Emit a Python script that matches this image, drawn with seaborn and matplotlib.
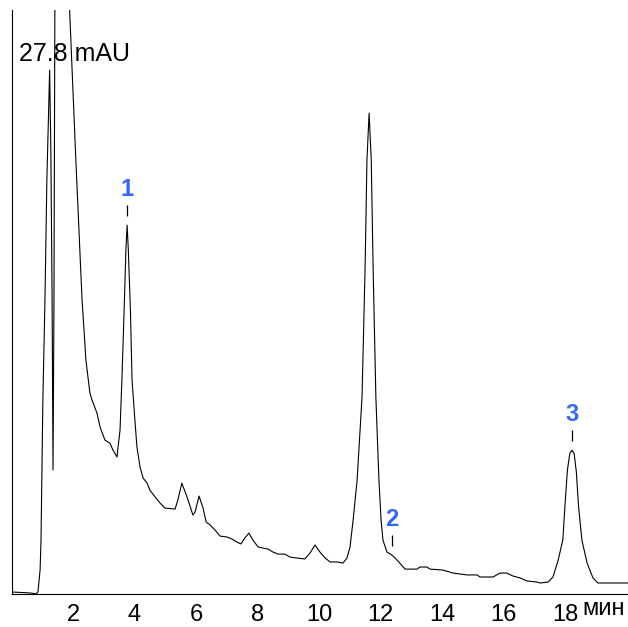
import numpy as np
import pandas as pd
import matplotlib
matplotlib.use("Agg")
import matplotlib.pyplot as plt
import matplotlib.transforms as mtransforms
import seaborn as sns

# Trace: time (min) and absorbance (mAU)
time_min = [0.02, 0.60, 0.80, 0.86, 0.93, 0.96, 1.02, 1.09, 1.15, 1.24,
            1.28, 1.32, 1.35, 1.38, 1.41, 1.62, 1.89, 2.08, 2.29, 2.42,
            2.55, 2.62, 2.78, 2.88, 3.04, 3.20, 3.30, 3.43, 3.53, 3.59,
            3.66, 3.72, 3.76, 3.80, 3.87, 3.92, 4.02, 4.08, 4.18, 4.28,
            4.41, 4.50, 4.67, 4.83, 4.99, 5.32, 5.41, 5.54, 5.71, 5.90,
            5.97, 6.10, 6.23, 6.33, 6.46, 6.62, 6.78, 7.01, 7.17, 7.33,
            7.46, 7.59, 7.72, 7.85, 8.02, 8.18, 8.34, 8.50, 8.67, 8.89,
            9.06, 9.28, 9.54, 9.71, 9.87, 10.03, 10.20, 10.36, 10.59, 10.78,
            10.91, 11.01, 11.11, 11.24, 11.40, 11.50, 11.56, 11.63, 11.70, 11.76,
            11.85, 11.95, 12.02, 12.08, 12.21, 12.37, 12.54, 12.80, 13.19, 13.28,
            13.51, 13.61, 14.03, 14.36, 14.81, 15.14, 15.24, 15.66, 15.89, 16.11,
            16.31, 16.54, 16.76, 17.09, 17.19, 17.45, 17.61, 17.78, 17.93, 18.00,
            18.08, 18.16, 18.23, 18.30, 18.37, 18.44, 18.55, 18.72, 18.91, 19.07,
            20.05]
signal_mau = [0.00, -0.05, -0.10, 0.00, 1.17, 2.77, 10.2, 15.7, 21.9, 27.8,
              23.5, 15.7, 6.5, 15.0, 31.0, 45.0, 31.0, 23.5, 15.7, 12.35,
              10.6, 10.22, 9.53, 8.79, 8.09, 7.93, 7.56, 7.19, 8.63, 11.29,
              14.86, 18.21, 19.54, 18.21, 14.86, 11.29, 9.00, 7.72, 6.66, 6.07,
              5.80, 5.43, 5.06, 4.74, 4.47, 4.42, 4.90, 5.80, 5.06, 4.10,
              4.26, 5.11, 4.47, 3.73, 3.57, 3.30, 2.98, 2.93, 2.82, 2.66,
              2.56, 2.88, 3.14, 2.77, 2.40, 2.34, 2.29, 2.13, 2.02, 2.02,
              1.86, 1.81, 1.76, 2.08, 2.50, 2.13, 1.81, 1.60, 1.60, 1.54,
              1.81, 2.40, 3.83, 5.96, 10.38, 17.31, 23.0, 25.51, 23.0, 17.31,
              10.38, 5.96, 3.83, 2.77, 2.13, 1.97, 1.70, 1.22, 1.22, 1.33,
              1.33, 1.22, 1.17, 1.01, 0.91, 0.91, 0.80, 0.80, 1.01, 1.01,
              0.85, 0.75, 0.59, 0.53, 0.48, 0.53, 0.80, 1.70, 2.77, 4.60,
              6.50, 7.40, 7.56, 7.35, 6.40, 4.60, 2.77, 1.54, 0.75, 0.48,
              0.48]

# Labelled peaks
peak_labels = ["1", "2", "3"]
peak_time = [3.76, 12.37, 18.23]
peak_height = [19.54, 1.97, 7.56]

x_ticks = list(range(1, 19))
x_ticklabels = [str(t) if t % 2 == 0 else "" for t in x_ticks]
y_mark = 27.8

df = pd.DataFrame({"time": time_min, "signal": signal_mau})

sns.set_style("white")
plt.rcParams["font.family"] = ["Liberation Sans", "DejaVu Sans"]
plt.rcParams["text.color"] = "black"

fig = plt.figure(figsize=(6.28, 6.27), dpi=100)
ax = fig.add_axes([11.5 / 628, 33 / 627, 616.5 / 628, 584 / 627])

sns.lineplot(data=df, x="time", y="signal", ax=ax, color="black",
             linewidth=0.8, sort=False, estimator=None)

ax.set_xlim(0, 20.05)
ax.set_ylim(-0.106, 31.0)

# Peak markers and numbers
for lab, t, h in zip(peak_labels, peak_time, peak_height):
    ax.vlines(t, h + 0.5, h + 1.05, color="black", linewidth=0.9)
    ax.text(t, h + 1.3, lab, color="#3366ff", fontsize=17, fontweight="bold",
            ha="center", va="bottom")

ax.set_xticks(x_ticks)
ax.set_xticklabels(x_ticklabels)
ax.tick_params(axis="x", direction="out", length=7.5, width=0.8, pad=0,
               labelsize=17, colors="black")
ax.set_yticks([y_mark])
ax.set_yticklabels([])
ax.tick_params(axis="y", direction="in", length=4, width=0.8, colors="black")

ax.text(0.24, 28.3, f"{y_mark} mAU", fontsize=18, va="baseline", ha="left",
        color="black")

trans = mtransforms.blended_transform_factory(ax.transData, ax.transAxes)
ax.text(18.56, -0.036, "мин", fontsize=17, va="baseline", ha="left",
        color="black", transform=trans, clip_on=False)

ax.set_xlabel("")
ax.set_ylabel("")
for side in ["top", "right"]:
    ax.spines[side].set_visible(False)
for side in ["left", "bottom"]:
    ax.spines[side].set_color("black")
    ax.spines[side].set_linewidth(0.8)

fig.savefig("out.png", dpi=100)
